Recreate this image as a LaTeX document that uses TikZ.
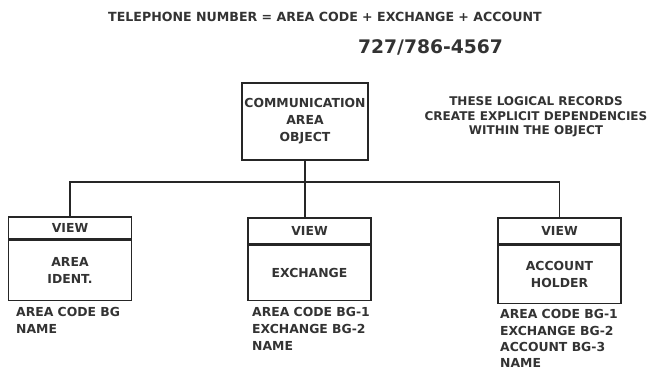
\documentclass[tikz,border=0pt]{standalone}
\usepackage{fontspec}
\setmainfont{DejaVu Sans}[BoldFont={DejaVu Sans Bold}]
\begin{document}
\begin{tikzpicture}[x=1pt,y=-1pt,
  ink/.style={draw=black!85, line width=1.6pt},
  txt/.style={text=black!80, font=\bfseries\fontsize{12.4}{17}\selectfont, inner sep=0pt},
  viewbox/.style={ink, txt, minimum width=123pt, inner sep=0pt, anchor=north},
  bodybox/.style={ink, txt, minimum width=123pt, inner sep=0pt, anchor=north, align=center},
  attr/.style={txt, anchor=north west, align=left},
  wire/.style={draw=black!85, line width=1.8pt}]
\useasboundingbox (0,0) rectangle (661,373);
\fill[white] (0,0) rectangle (661,373);

% heading lines
\node[txt, font=\bfseries\fontsize{12.6}{15}\selectfont] (title) at (325,17)
  {TELEPHONE NUMBER = AREA CODE + EXCHANGE + ACCOUNT};
\node[txt, font=\bfseries\fontsize{18.7}{22}\selectfont] (phone) at (430.5,47) {727/786-4567};

% parent object
\node[ink, txt, minimum width=126pt, minimum height=77pt, align=center] (comm) at (305,121.5)
  {COMMUNICATION\\AREA\\OBJECT};

% note
\node[txt, font=\bfseries\fontsize{12}{14.5}\selectfont, align=center] (note) at (536,117)
  {THESE LOGICAL RECORDS\\CREATE EXPLICIT DEPENDENCIES\\WITHIN THE OBJECT};

% views
\node[viewbox, minimum height=22pt] (viewA) at (70,216) {VIEW};
\node[bodybox, minimum height=60pt] (bodyA) at (viewA.south) {AREA\\IDENT.};
\node[viewbox, minimum height=26pt] (viewB) at (309.5,217) {VIEW};
\node[bodybox, minimum height=55pt] (bodyB) at (viewB.south) {EXCHANGE};
\node[viewbox, minimum height=26pt] (viewC) at (559.5,217) {VIEW};
\node[bodybox, minimum height=58pt] (bodyC) at (viewC.south) {ACCOUNT\\HOLDER};

% attributes under each view
\node[attr] (attrA) at (16,307.5) {AREA CODE BG\\NAME};
\node[attr] (attrB) at (252,307.5) {AREA CODE BG-1\\EXCHANGE BG-2\\NAME};
\node[attr, font=\bfseries\fontsize{12.4}{16.3}\selectfont] (attrC) at (500,309.5)
  {AREA CODE BG-1\\EXCHANGE BG-2\\ACCOUNT BG-3\\NAME};

% connectors
\coordinate (bus) at (305,182);
\draw[wire] (comm.south) -- (comm.south |- viewB.north);
\draw[wire] (viewA.north) |- (bus) -| (viewC.north);
\end{tikzpicture}
\end{document}
